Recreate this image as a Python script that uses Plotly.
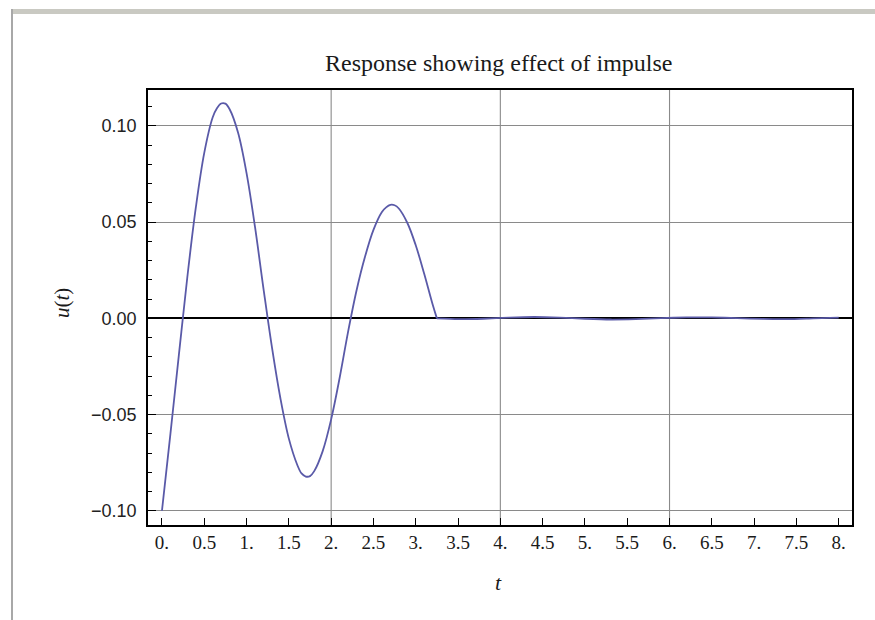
import plotly.graph_objects as go

# Impulse response u(t): oscillating pulse up to t = 3.25, then near-zero ripple
pulse_t = [0.0, 0.1, 0.2, 0.3, 0.4, 0.5, 0.6, 0.65, 0.7, 0.75, 0.8, 0.9, 1.0,
           1.1, 1.2, 1.3, 1.4, 1.5, 1.6, 1.65, 1.7, 1.75, 1.8, 1.9, 2.0, 2.1,
           2.2, 2.3, 2.4, 2.5, 2.6, 2.65, 2.7, 2.75, 2.8, 2.9, 3.0, 3.1, 3.2,
           3.25]
pulse_u = [-0.1000, -0.0600, -0.0190, 0.0215, 0.0575, 0.0860, 0.1045, 0.1092,
           0.1117, 0.1116, 0.1087, 0.0965, 0.0755, 0.0475, 0.0155, -0.0150,
           -0.0415, -0.0625, -0.0762, -0.0806, -0.0822, -0.0820, -0.0794,
           -0.0690, -0.0525, -0.0310, -0.0070, 0.0145, 0.0320, 0.0460, 0.0553,
           0.0577, 0.0590, 0.0588, 0.0571, 0.0497, 0.0380, 0.0232, 0.0072,
           0.0000]

tail_t = [3.25, 3.5, 3.8, 4.1, 4.4, 4.7, 5.0, 5.3, 5.6, 5.9, 6.2, 6.5, 6.8,
          7.1, 7.4, 7.7, 8.0]
tail_u = [0.0000, -0.0004, -0.0002, 0.0004, 0.0007, 0.0004, -0.0002, -0.0006,
          -0.0004, 0.0001, 0.0005, 0.0005, 0.0001, -0.0003, -0.0004, 0.0000,
          0.0004]

x_ticks = [0, 0.5, 1, 1.5, 2, 2.5, 3, 3.5, 4, 4.5, 5, 5.5, 6, 6.5, 7, 7.5, 8]
x_tick_labels = ["0.", "0.5", "1.", "1.5", "2.", "2.5", "3.", "3.5", "4.",
                 "4.5", "5.", "5.5", "6.", "6.5", "7.", "7.5", "8."]
y_ticks = [-0.10, -0.05, 0.0, 0.05, 0.10]
y_tick_labels = ["\u22120.10", "\u22120.05", "0.00", "0.05", "0.10"]
x_grid = [2, 4, 6]

title_text = "Response showing effect of impulse"

W, H = 875, 620
ML, MR, MT, MB = 148, 23, 90, 95
PW, PH = W - ML - MR, H - MT - MB


def px_x(px):
    return (px - ML) / PW


def px_y(py):
    return 1 - (py - MT) / PH


line_color = "#5a5aa8"
serif = "Liberation Serif, Times New Roman, serif"
sans = "Liberation Sans, Arial, sans-serif"

fig = go.Figure()
fig.add_trace(go.Scatter(x=pulse_t, y=pulse_u, mode="lines",
                         line=dict(color=line_color, width=1.8, shape="spline",
                                   smoothing=1.0),
                         showlegend=False, hoverinfo="skip"))
fig.add_trace(go.Scatter(x=tail_t, y=tail_u, mode="lines",
                         line=dict(color=line_color, width=1.8, shape="spline",
                                   smoothing=0.6),
                         showlegend=False, hoverinfo="skip"))

shapes = []
# vertical grid lines
for g in x_grid:
    shapes.append(dict(type="line", xref="x", yref="paper", x0=g, x1=g,
                       y0=0, y1=1, layer="below",
                       line=dict(color="#8a8a8a", width=1.1)))
# window frame around the notebook cell
shapes.append(dict(type="rect", xref="paper", yref="paper",
                   x0=px_x(11), x1=px_x(W + 2), y0=px_y(14), y1=px_y(9),
                   line=dict(width=0), fillcolor="#c9c9c2", layer="above"))
shapes.append(dict(type="rect", xref="paper", yref="paper",
                   x0=px_x(11), x1=px_x(13), y0=px_y(H + 2), y1=px_y(9),
                   line=dict(width=0), fillcolor="#a8a8a8", layer="above"))

annotations = [
    dict(text=title_text, xref="paper", yref="paper", x=px_x(499),
         y=px_y(63), xanchor="center", yanchor="middle", showarrow=False,
         font=dict(family=serif, size=24, color="#1a1a1a")),
    dict(text="<i>t</i>", xref="paper", yref="paper", x=px_x(498),
         y=px_y(582), xanchor="center", yanchor="middle", showarrow=False,
         font=dict(family=serif, size=22, color="#1a1a1a")),
    dict(text="<i>u</i>(<i>t</i>)", xref="paper", yref="paper", x=px_x(62),
         y=px_y(303), xanchor="center", yanchor="middle", showarrow=False,
         textangle=-90, font=dict(family=serif, size=21, color="#1a1a1a")),
]

fig.update_layout(
    width=W, height=H,
    margin=dict(l=ML, r=MR, t=MT, b=MB, pad=0),
    paper_bgcolor="white", plot_bgcolor="white",
    shapes=shapes, annotations=annotations,
    xaxis=dict(range=[-0.165, 8.157], tickmode="array", tickvals=x_ticks,
               ticktext=x_tick_labels, ticks="inside", ticklen=7,
               tickwidth=1.3, tickcolor="black", showline=True, mirror=True,
               linecolor="black", linewidth=1.6, showgrid=False,
               zeroline=False, ticklabelstandoff=-1,
               tickfont=dict(family=serif, size=19, color="#1a1a1a")),
    yaxis=dict(range=[-0.1074, 0.1187], tickmode="array", tickvals=y_ticks,
               ticktext=y_tick_labels, ticks="inside", ticklen=8,
               tickwidth=1.3, tickcolor="black", showline=True, mirror=True,
               linecolor="black", linewidth=1.6, showgrid=True,
               gridcolor="#8a8a8a", gridwidth=1.1, zeroline=True,
               zerolinecolor="black", zerolinewidth=1.6,
               minor=dict(dtick=0.01, tick0=0, ticks="inside", ticklen=4,
                          tickwidth=1.2, tickcolor="black", showgrid=False),
               ticklabelstandoff=6,
               tickfont=dict(family=sans, size=18, color="#222222")),
)

fig.write_html("out.html")
